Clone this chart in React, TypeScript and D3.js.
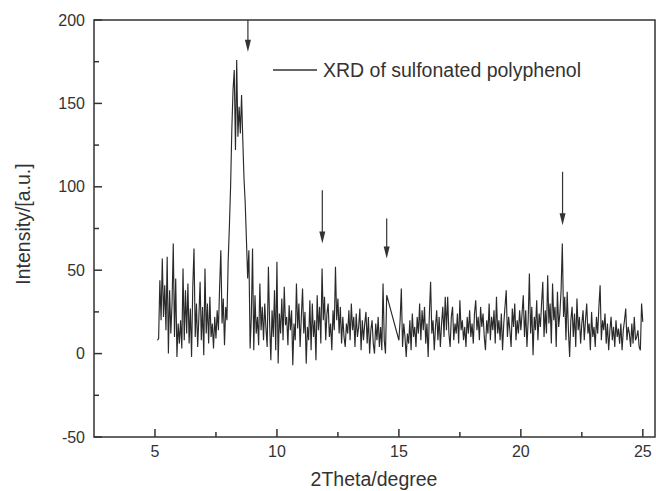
import React from "react";
import * as d3 from "d3";

const START = 5.1;
const STEP = 0.05;

const seg5 = [8, 9, 44, 20, 57, 22, 41, 14, 58, 0, 38, 12, 30, 66, 10, 45, -2, 18];
const seg6 = [6, 20, 3, 51, 8, 38, 12, 42, 6, 27, -2, 40, 63, 10, 30, 4, 22, 43, 8, 28];
const seg7 = [-1, 51, 12, 30, 6, 34, 10, 18, 3, 22, 9, 26, 14, 40, 62, 18, 33, 5, 28, 20];
const seg8 = [55, 76, 100, 134, 158, 170, 122, 176, 130, 148, 132, 155, 128, 105, 90, 68, 45, 62, 3, 22];
const seg9 = [63, 2, 35, 12, 22, 5, 42, 14, 28, 8, 30, 15, 4, 52, 18, -4, 26, 10, 38, 2];
const seg10 = [55, -6, 24, 12, 33, 8, 40, 17, 22, 5, 29, 14, 26, -7, 18, 8, 42, 15, 30, 4];
const seg11 = [22, 39, 12, 25, -6, 16, 8, 32, 2, 30, 10, 20, -4, 35, 14, 28, 6, 51, 20, 34];
const seg12 = [8, 24, 30, 10, 18, 2, 26, 14, 52, 20, 33, 12, 28, 6, 22, 10, 4, 18, 12, 26];
const seg13 = [8, 30, 14, 22, 4, 24, 10, 16, 27, 2, 20, 8, 18, 25, 6, 22, 0, 14, 20, 6];
const seg14 = [0, 18, 8, 22, 4, 16, 2, 42, 8, 0, 35, null, null, null, null, null, null, null, null, null];
const seg15 = [8, 20, 39, 4, 18, 10, -2, 12, 6, 20, 2, 24, 10, 16, 4, 22, 12, 30, 8, 26];
const seg16 = [14, 28, 6, 18, -2, 24, 43, 12, 20, 2, 16, 26, 8, 22, 4, 18, 28, 10, 34, 14];
const seg17 = [34, 12, 4, 22, 28, 8, 18, 12, 24, 6, 32, 14, 20, 8, 16, 4, 22, 12, 26, 10];
const seg18 = [18, 6, 24, 32, 14, 22, 8, 28, 16, 24, 10, 2, 20, 12, 30, 8, 22, 14, 26, 6];
const seg19 = [34, 12, 20, 8, 24, 2, 18, 28, 38, 10, 22, 14, 4, 27, 16, 30, 8, 20, 12, 26];
const seg20 = [14, 24, 35, 10, 26, 4, 20, 48, 12, 28, -1, 22, 14, 32, 8, 24, 16, 30, 43, 10];
const seg21 = [26, 12, 47, 18, 30, 6, 42, 20, 28, 4, 37, 16, 24, 38, 66, 22, 34, 8, 37, 14];
const seg22 = [-2, 20, 28, 10, 24, 4, 33, 14, 22, 6, 18, 26, 8, 20, 30, 12, 18, 2, 25, 10];
const seg23 = [16, 4, 22, 12, 28, 41, 8, 20, 14, 24, 6, 18, 2, 14, 22, 8, 16, 4, 20, 10];
const seg24 = [15, 6, 18, 2, 14, 20, 27, 8, 16, 12, 4, 18, 6, 22, 8, 10, 14, 4, 2, 30, 19];

const intensity: (number | null)[] = [
  ...seg5, ...seg6, ...seg7, ...seg8, ...seg9, ...seg10, ...seg11, ...seg12, ...seg13, ...seg14,
  ...seg15, ...seg16, ...seg17, ...seg18, ...seg19, ...seg20, ...seg21, ...seg22, ...seg23, ...seg24,
];

const xMajorTicks = [5, 10, 15, 20, 25];
const xMinorTicks = [7.5, 12.5, 17.5, 22.5];
const yMajorTicks = [-50, 0, 50, 100, 150, 200];
const yMinorTicks = [-25, 25, 75, 125, 175];

// arrows: [x, yTop, yTip] in data units
const arrows = [
  [8.81, 200, 181],
  [11.86, 98, 66],
  [14.5, 81, 57],
  [21.71, 109, 77],
];

const legendLabel = "XRD of sulfonated polyphenol";
const xTitle = "2Theta/degree";
const yTitle = "Intensity/[a.u.]";

export default function App() {
  const W = 656, H = 491;
  const left = 94, right = 655, top = 20, bottom = 437;
  const x = d3.scaleLinear().domain([2.5, 25.5]).range([left, right]);
  const y = d3.scaleLinear().domain([-50, 200]).range([bottom, top]);

  const pts = intensity
    .map((v, i) => ({ t: START + i * STEP, v }))
    .filter((p) => p.v !== null) as { t: number; v: number }[];
  const line = d3.line<{ t: number; v: number }>().x((d) => x(d.t)).y((d) => y(d.v));

  const axisColor = "#333";
  const font = "Liberation Sans, Arial, sans-serif";

  return (
    <svg width={W} height={H} style={{ position: "absolute", left: 0, top: 0 }} fontFamily={font}>
      <rect x={0} y={0} width={W} height={H} fill="#fff" />
      <path d={line(pts) || ""} fill="none" stroke="#2a2a2a" strokeWidth={1.15} strokeLinejoin="miter" />
      {/* frame */}
      <rect x={left} y={top} width={right - left} height={bottom - top} fill="none" stroke={axisColor} strokeWidth={1.5} />
      {xMajorTicks.map((t) => (
        <g key={"xm" + t}>
          <line x1={x(t)} x2={x(t)} y1={bottom} y2={bottom - 8} stroke={axisColor} strokeWidth={1.5} />
          <text x={x(t)} y={457} textAnchor="middle" fontSize={16} fill="#333">{t}</text>
        </g>
      ))}
      {xMinorTicks.map((t) => (
        <line key={"xn" + t} x1={x(t)} x2={x(t)} y1={bottom} y2={bottom - 5} stroke={axisColor} strokeWidth={1.5} />
      ))}
      {yMajorTicks.map((t) => (
        <g key={"ym" + t}>
          <line x1={left} x2={left + 8} y1={y(t)} y2={y(t)} stroke={axisColor} strokeWidth={1.5} />
          <text x={85} y={y(t)} dy="0.35em" textAnchor="end" fontSize={16} fill="#333">{t}</text>
        </g>
      ))}
      {yMinorTicks.map((t) => (
        <line key={"yn" + t} x1={left} x2={left + 5} y1={y(t)} y2={y(t)} stroke={axisColor} strokeWidth={1.5} />
      ))}
      {arrows.map(([ax, y0, y1], i) => {
        const px = x(ax);
        const pTop = y(y0);
        const pTip = y(y1);
        return (
          <g key={"a" + i}>
            <line x1={px} x2={px} y1={pTop} y2={pTip - 6} stroke="#333" strokeWidth={1.2} />
            <path d={`M${px - 3},${pTip - 12} L${px + 3},${pTip - 12} L${px},${pTip} Z`} fill="#333" />
          </g>
        );
      })}
      <line x1={273} x2={317} y1={70} y2={70} stroke="#333" strokeWidth={1.5} />
      <text x={323} y={77} fontSize={19.5} fill="#333">{legendLabel}</text>
      <text x={374} y={486} textAnchor="middle" fontSize={19.5} fill="#333">{xTitle}</text>
      <text transform={`translate(30,224) rotate(-90)`} textAnchor="middle" fontSize={19.5} fill="#333">{yTitle}</text>
    </svg>
  );
}
